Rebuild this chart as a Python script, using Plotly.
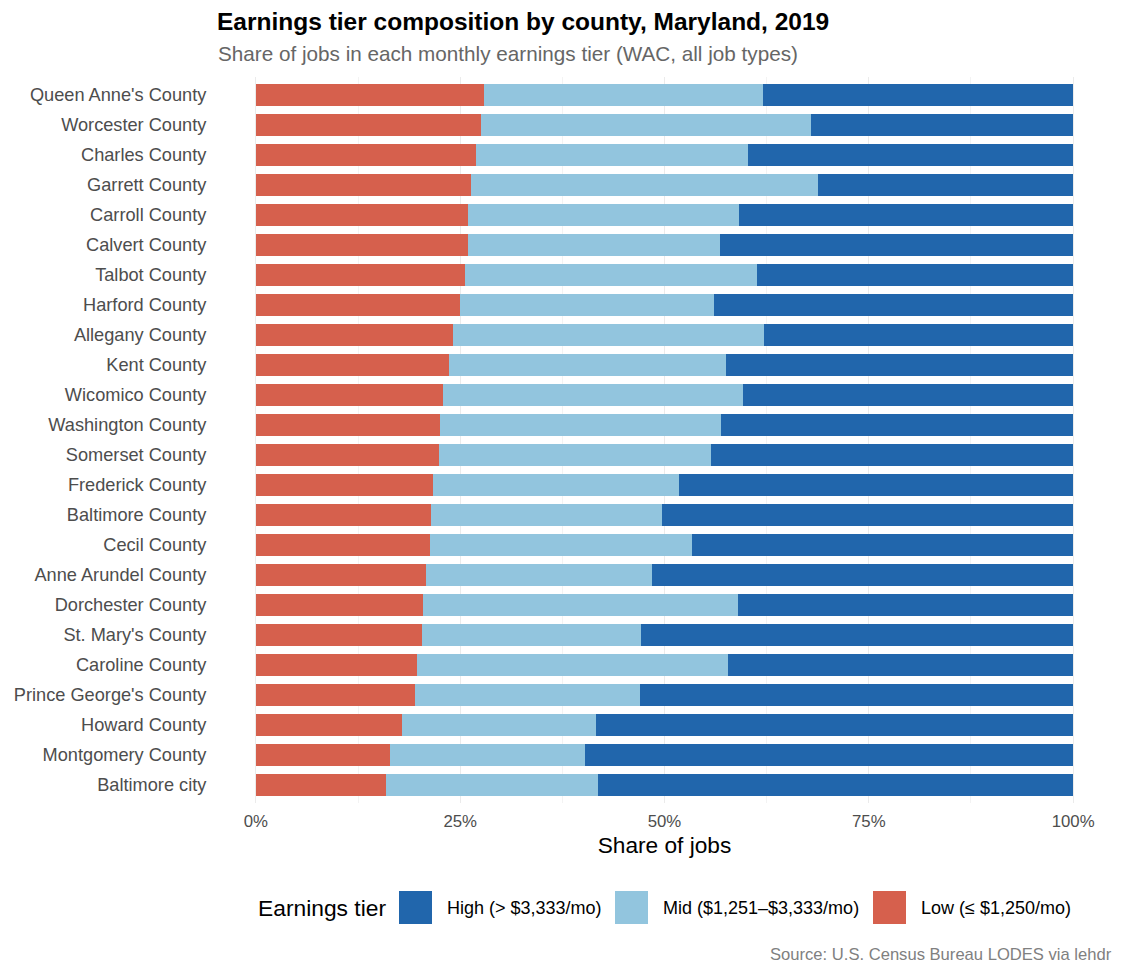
import plotly.graph_objects as go

counties = [
    "Queen Anne's County", "Worcester County", "Charles County", "Garrett County",
    "Carroll County", "Calvert County", "Talbot County", "Harford County",
    "Allegany County", "Kent County", "Wicomico County", "Washington County",
    "Somerset County", "Frederick County", "Baltimore County", "Cecil County",
    "Anne Arundel County", "Dorchester County", "St. Mary's County", "Caroline County",
    "Prince George's County", "Howard County", "Montgomery County", "Baltimore city",
]

# share of jobs (fraction) per tier, same order as counties
low = [0.279, 0.2755, 0.269, 0.263, 0.2595, 0.2595, 0.256, 0.2495,
       0.241, 0.236, 0.229, 0.225, 0.224, 0.2165, 0.214, 0.213,
       0.208, 0.204, 0.203, 0.197, 0.1945, 0.1785, 0.164, 0.159]
cum_mid = [0.6205, 0.679, 0.6025, 0.688, 0.591, 0.568, 0.613, 0.561,
           0.6215, 0.575, 0.596, 0.569, 0.557, 0.518, 0.497, 0.534,
           0.485, 0.59, 0.471, 0.5775, 0.47, 0.416, 0.403, 0.419]
mid = [round(c - l, 4) for c, l in zip(cum_mid, low)]
high = [round(1 - c, 4) for c in cum_mid]

tiers = ["Low (≤ $1,250/mo)", "Mid ($1,251–$3,333/mo)", "High (> $3,333/mo)"]
colors = ["#D6604D", "#92C5DE", "#2166AC"]
values = [low, mid, high]

W, H = 1117, 967          # page adds 8px body margin
L, R, T, B = 207, 11, 69, 172
pw, ph = W - L - R, H - T - B


def px(x):   # page pixel -> paper x
    return (x - 8 - L) / pw


def py(y):   # page pixel -> paper y
    return (H - B - (y - 8)) / ph


fig = go.Figure()
for name, col, vals in zip(tiers, colors, values):
    fig.add_trace(go.Bar(
        y=counties, x=vals, name=name, orientation="h",
        marker=dict(color=col, line=dict(width=0)), width=0.75,
        showlegend=False,
    ))

fig.update_layout(
    width=W, height=H,
    barmode="stack",
    plot_bgcolor="white", paper_bgcolor="white",
    font=dict(family="Liberation Sans, Arial, sans-serif", color="#4D4D4D"),
    margin=dict(l=L, r=R, t=T, b=B, autoexpand=False),
    title=dict(
        text="<b>Earnings tier composition by county, Maryland, 2019</b>",
        x=(217 - 8) / W, xanchor="left", xref="container",
        y=1 - 13.5 / H, yanchor="middle", yref="container",
        font=dict(size=24.5, color="black"),
    ),
)

fig.update_xaxes(
    range=[-0.05, 1.05], tickvals=[0, 0.25, 0.5, 0.75, 1],
    ticktext=["0%", "25%", "50%", "75%", "100%"],
    showgrid=True, gridcolor="#EBEBEB", gridwidth=1.1,
    minor=dict(tickvals=[0.125, 0.375, 0.625, 0.875], showgrid=True,
               gridcolor="#F3F3F3", gridwidth=0.6),
    zeroline=False, showline=False, automargin=False,
    ticks="outside", ticklen=3, tickcolor="rgba(0,0,0,0)",
    tickfont=dict(size=16.8, color="#4D4D4D"),
    title=dict(text="Share of jobs", font=dict(size=22.7, color="black"), standoff=6),
)
fig.update_yaxes(
    categoryorder="array", categoryarray=counties[::-1],
    range=[-0.6, 23.6], showgrid=False, zeroline=False, automargin=False,
    ticks="outside", ticklen=4, tickcolor="rgba(0,0,0,0)",
    tickfont=dict(size=18.2, color="#4D4D4D"),
)

fig.add_annotation(
    text="Share of jobs in each monthly earnings tier (WAC, all job types)",
    xref="paper", yref="paper", x=px(216), y=py(53), xanchor="left", yanchor="middle",
    showarrow=False, font=dict(size=20.7, color="#666666"),
)

# legend drawn as ggplot-style large keys
leg_y = 907.5
fig.add_annotation(
    text="Earnings tier", xref="paper", yref="paper", x=px(256), y=py(leg_y),
    xanchor="left", yanchor="middle", showarrow=False,
    font=dict(size=22.8, color="black"),
)
key_left = [399, 615, 873]
for k, (name, col) in enumerate(zip(tiers[::-1], colors[::-1])):
    x0 = key_left[k]
    fig.add_shape(type="rect", xref="paper", yref="paper",
                  x0=px(x0), x1=px(x0 + 33), y0=py(leg_y + 16.5), y1=py(leg_y - 16.5),
                  fillcolor=col, line=dict(width=0))
    fig.add_annotation(
        text=name, xref="paper", yref="paper", x=px(x0 + 46), y=py(leg_y),
        xanchor="left", yanchor="middle", showarrow=False,
        font=dict(size=18, color="black"),
    )

fig.add_annotation(
    text="Source: U.S. Census Bureau LODES via lehdr",
    xref="paper", yref="paper", x=px(1114), y=py(955), xanchor="right", yanchor="middle",
    showarrow=False, font=dict(size=16.6, color="#808080"),
)

fig.write_html("out.html")
